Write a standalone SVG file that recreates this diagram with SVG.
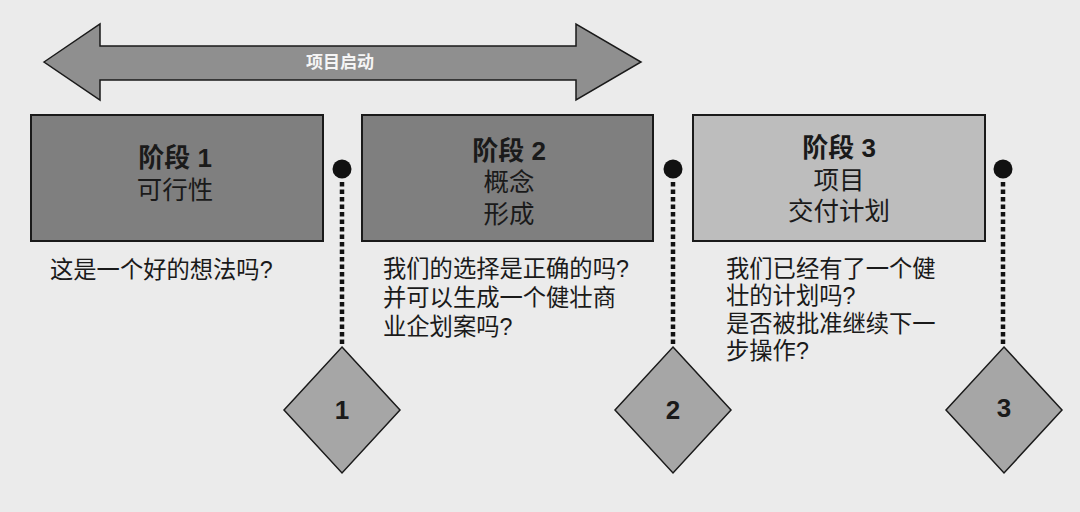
<svg xmlns="http://www.w3.org/2000/svg" width="1080" height="512" viewBox="0 0 1080 512">
<style>
.bg{fill:#ebebeb}
.box{stroke:#1a1a1a;stroke-width:2}
.dark{fill:#7f7f7f}
.light{fill:#bdbdbd}
.dia{fill:#a6a6a6;stroke:#1a1a1a;stroke-width:1.5}
.t{font-family:"Liberation Sans","Noto Sans CJK SC",sans-serif;fill:#1a1a1a}
.title{font-size:26px;font-weight:bold;text-anchor:middle}
.sub{font-size:25.5px;text-anchor:middle}
.q{font-size:23.3px}
.num{font-family:"Liberation Sans",Arial,sans-serif;font-size:26px;font-weight:bold;text-anchor:middle;fill:#1a1a1a}
.dots{stroke:#111;stroke-width:4.5;stroke-dasharray:4.5 3;fill:none}
.pin{fill:#111}
</style>
<rect class="bg" x="0" y="0" width="1080" height="512"/>
<g id="arrow">
<polygon points="44,62 100,24 100,46 576,46 576,24 641,62 576,100 576,80 100,80 100,100" fill="#8f8f8f" stroke="#1a1a1a" stroke-width="1.5"/>
<text x="340" y="68" class="t" style="font-size:17px;font-weight:bold;text-anchor:middle;fill:#f5f5f5">项目启动</text>
</g>
<g id="connectors">
<line class="dots" x1="342" y1="182" x2="342" y2="346"/>
<line class="dots" x1="673" y1="182" x2="673" y2="346"/>
<line class="dots" x1="1003" y1="182" x2="1003" y2="346"/>
<circle class="pin" cx="342" cy="169" r="9.5"/>
<circle class="pin" cx="673" cy="169" r="9.5"/>
<circle class="pin" cx="1003" cy="169" r="9.5"/>
</g>
<g id="stage1">
<rect class="box dark" x="31" y="115" width="292" height="126"/>
<text class="t title" x="175" y="167">阶段 1</text>
<text class="t sub" x="175" y="199">可行性</text>
<text class="t q" x="50" y="278">这是一个好的想法吗?</text>
</g>
<g id="stage2">
<rect class="box dark" x="362" y="115" width="291" height="126"/>
<text class="t title" x="509" y="160">阶段 2</text>
<text class="t sub" x="509" y="191">概念</text>
<text class="t sub" x="509" y="223">形成</text>
<text class="t q" x="383" y="277">我们的选择是正确的吗?</text>
<text class="t q" x="383" y="306">并可以生成一个健壮商</text>
<text class="t q" x="383" y="335">业企划案吗?</text>
</g>
<g id="stage3">
<rect class="box light" x="693" y="115" width="292" height="126"/>
<text class="t title" x="839" y="157">阶段 3</text>
<text class="t sub" x="839" y="189">项目</text>
<text class="t sub" x="839" y="220">交付计划</text>
<text class="t q" x="726" y="277">我们已经有了一个健</text>
<text class="t q" x="726" y="304">壮的计划吗?</text>
<text class="t q" x="726" y="332">是否被批准继续下一</text>
<text class="t q" x="726" y="359">步操作?</text>
</g>
<g id="gate1">
<polygon class="dia" points="342,347 400,410 342,473 284,410"/>
<text class="num" x="342" y="419">1</text>
</g>
<g id="gate2">
<polygon class="dia" points="673,347 731,410 673,473 615,410"/>
<text class="num" x="673" y="419">2</text>
</g>
<g id="gate3">
<polygon class="dia" points="1004,347 1062,410 1004,473 946,410"/>
<text class="num" x="1004" y="417">3</text>
</g>
</svg>
